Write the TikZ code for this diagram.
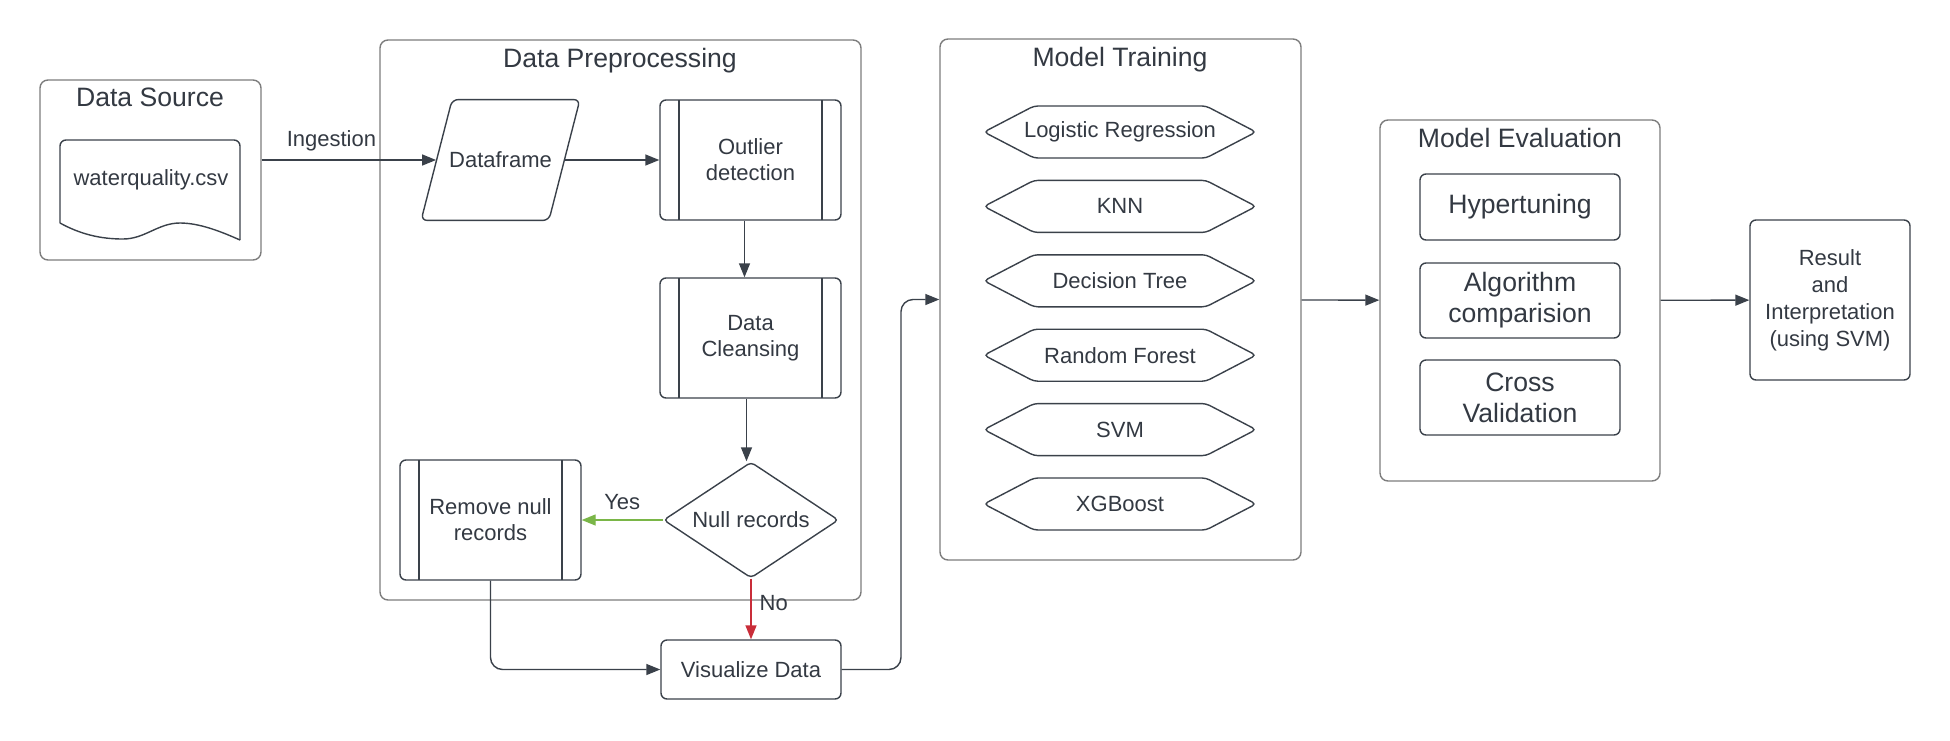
\documentclass[tikz,border=0pt]{standalone}
\usepackage{fontspec}
\setmainfont{Liberation Sans}
\usetikzlibrary{positioning,calc,shapes.geometric,shapes.symbols,arrows.meta}
\definecolor{lineC}{RGB}{58,65,74}
\definecolor{frameC}{RGB}{125,125,125}
\definecolor{textC}{RGB}{51,57,66}
\definecolor{yesC}{RGB}{122,182,72}
\definecolor{noC}{RGB}{201,45,57}

\begin{document}
\begin{tikzpicture}[x=0.5pt,y=-0.5pt,auto]
    \tikzstyle{every node}=[text=textC,font=\fontsize{11}{13}\selectfont,inner sep=0,align=center]
    \tikzstyle{group}=[draw=frameC,line width=0.7pt,rounded corners=4pt,rectangle]
    \tikzstyle{title}=[font=\fontsize{13.3}{15.5}\selectfont]
    \tikzstyle{box}=[draw=lineC,line width=0.7pt,rounded corners=3pt,rectangle,minimum width=90.5pt,minimum height=60pt]
    \tikzstyle{sub}=[box,path picture={
        \draw[lineC,line width=0.6pt] ([xshift=9.5pt]path picture bounding box.north west) -- ([xshift=9.5pt]path picture bounding box.south west);
        \draw[lineC,line width=0.6pt] ([xshift=-9.5pt]path picture bounding box.north east) -- ([xshift=-9.5pt]path picture bounding box.south east);}]
    \tikzstyle{algo}=[draw=lineC,line width=0.7pt,rounded corners=2pt,signal,signal to=west and east,signal pointer angle=55,minimum width=136pt,minimum height=26pt]
    \tikzstyle{evalbox}=[box,title,minimum width=100pt]
    \tikzstyle{link}=[draw=lineC,line width=0.7pt,-{Triangle[length=7pt,width=5.5pt]}]

    \useasboundingbox (0,0) rectangle (1950,740);

    % containers
    \node[group,minimum width=110.5pt,minimum height=90pt] (src) at (150.5,170) {};
    \node[group,minimum width=240.5pt,minimum height=280pt] (prep) at (620.5,320) {};
    \node[group,minimum width=180.5pt,minimum height=260.5pt] (train) at (1120.5,299.5) {};
    \node[group,minimum width=140pt,minimum height=180.5pt] (eval) at (1520,300.5) {};
    \node[title] at (150,97) {Data Source};
    \node[title] at (620,61) {Data Preprocessing};
    \node[title] at (1120,60) {Model Training};
    \node[title] at (1520,138) {Model Evaluation};

    % data source
    \draw[lineC,line width=0.7pt,rounded corners=3pt] (60,223) -- (60,140) -- (240,140) -- (240,240);
    \draw[lineC,line width=0.7pt] (240,240) .. controls (222,232) and (200,223) .. (180,223)
        .. controls (158,223) and (145,239) .. (123,239) .. controls (100,239) and (80,234) .. (60,223);
    \node (csv) at (151,180) {waterquality.csv};

    % preprocessing
    \node[minimum width=79pt,minimum height=60pt] (frame) at (500.5,160) {Dataframe};
    \draw[lineC,line width=0.7pt,rounded corners=3pt] ([xshift=15.5pt]frame.north west) -- (frame.north east)
        -- ([xshift=-15.5pt]frame.south east) -- (frame.south west) -- cycle;
    \node[sub] (outl) at (750.5,160) {Outlier\\detection};
    \node[sub] (clean) at (750.5,338) {Data\\Cleansing};
    \node[draw=lineC,line width=0.7pt,rounded corners=2pt,diamond,aspect=1.6,minimum width=87.5pt,minimum height=58pt] (nullq) at (751,520) {Null records};
    \node[sub] (rmnull) at (490.5,520) {Remove null\\records};
    \node[box,minimum width=90pt,minimum height=29.5pt] (visual) at (751,669.5) {Visualize Data};

    % training
    \foreach \name [count=\i from 0] in {Logistic Regression,KNN,Decision Tree,Random Forest,SVM,XGBoost} {
        \node[algo] (alg\i) at (1120,{132+74.4*\i}) {\makebox[0pt]{\name}};
    }

    % evaluation
    \node[evalbox,minimum height=33pt] (hyper) at (1520,207) {Hypertuning};
    \node[evalbox,minimum height=37.5pt] (comp) at (1520,300.5) {Algorithm\\comparision};
    \node[evalbox,minimum height=37.5pt] (cross) at (1520,397.5) {Cross\\Validation};
    \node[box,minimum width=80pt,minimum height=80pt,font=\fontsize{11}{13.5}\selectfont] (result) at (1830,300) {Result\\and\\Interpretation\\(using SVM)};

    % connectors
    \coordinate (bend) at (901,0);
    \path[link] (src.east |- frame) -- node[above=4pt,pos=0.4] {Ingestion} ([xshift=7.5pt]frame.west);
    \path[link] ([xshift=-7.5pt]frame.east) -- (outl);
    \path[link] ([xshift=-3pt]outl.south) -- ([xshift=-3pt]outl.south |- clean.north);
    \path[link] ([xshift=-2pt]clean.south) -- ([xshift=-2pt]clean.south |- nullq.north);
    \path[link,draw=yesC] (nullq.west) -- node[above=5pt] {Yes} (rmnull.east);
    \path[link,draw=noC] (nullq.south) -- node[right=4pt,pos=0.4] {No} (visual.north);
    \path[link,rounded corners=6pt] (rmnull.south) |- (visual.west);
    \path[link,rounded corners=6pt] (visual.east) -| (bend |- train.west) -- (train.west);
    \path[link] (train) -- (eval);
    \path[link] (eval) -- (result);
\end{tikzpicture}
\end{document}
